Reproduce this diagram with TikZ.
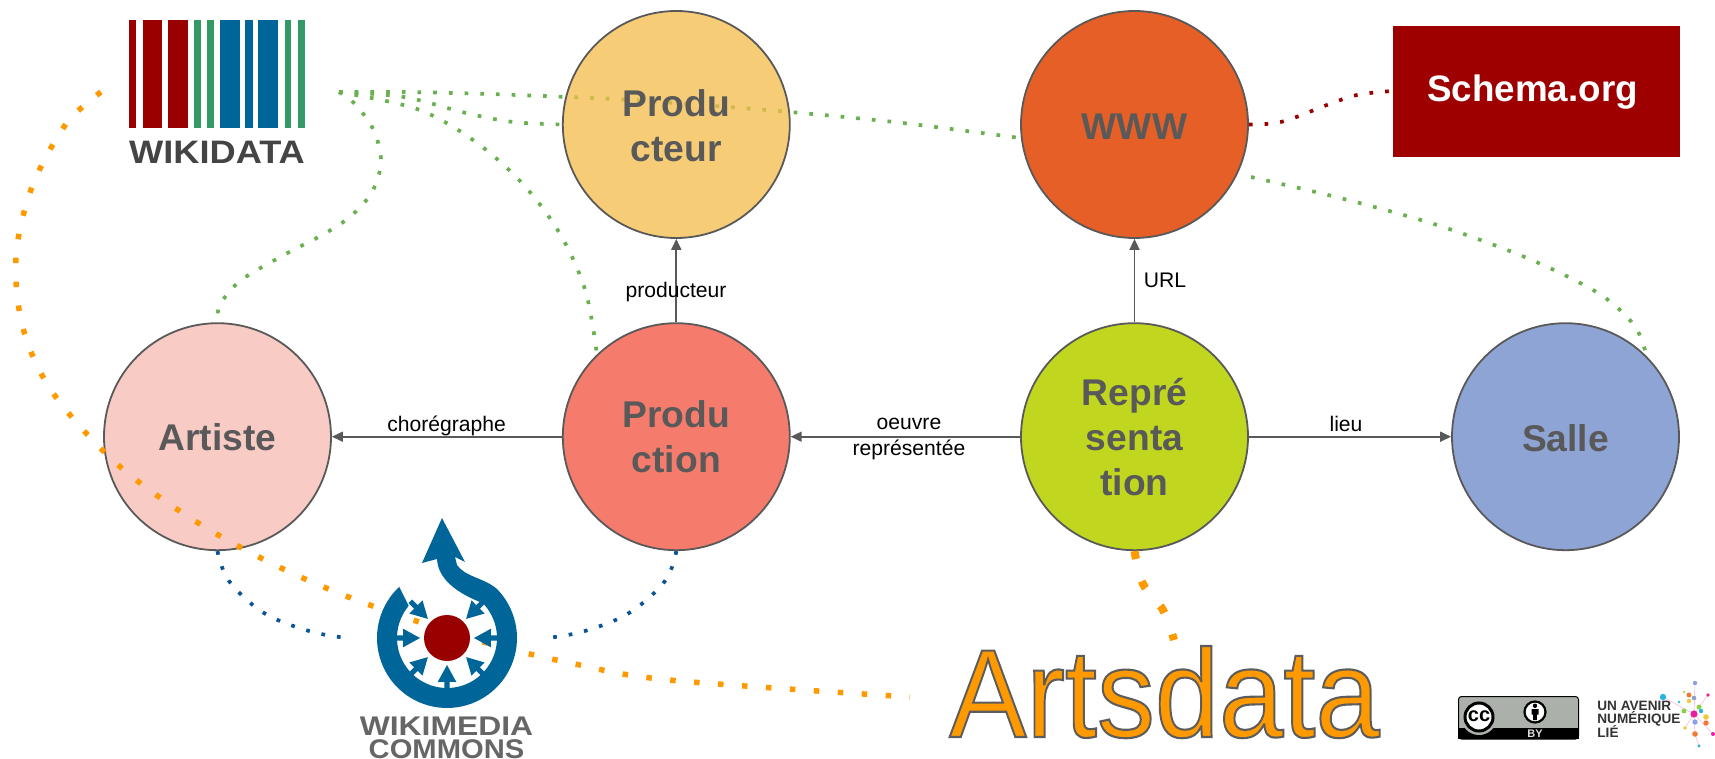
\documentclass[tikz,border=0pt]{standalone}
\usepackage{fontspec}
\usepackage{graphicx}
\setmainfont{Liberation Sans}
\usetikzlibrary{arrows.meta}
\definecolor{txtgrey}{HTML}{595959}
\definecolor{gdot}{HTML}{6AAF50}
\definecolor{bdot}{HTML}{0B5394}
\definecolor{odot}{HTML}{FF9900}
\definecolor{rdot}{HTML}{990000}
\definecolor{wmblue}{HTML}{006699}
\definecolor{wdgreen}{HTML}{339966}
\definecolor{ccgrey}{HTML}{ABB1AA}
\definecolor{cprod}{HTML}{F3BC48}
\definecolor{cwww}{HTML}{E55F26}
\definecolor{cart}{HTML}{F9CBC5}
\definecolor{cpron}{HTML}{F57B6C}
\definecolor{crep}{HTML}{C1D61F}
\definecolor{csal}{HTML}{8EA4D5}
\definecolor{cschema}{HTML}{9E0000}
\definecolor{wdtxt}{HTML}{444444}
\definecolor{wmtxt}{HTML}{666666}
\definecolor{uatxt}{HTML}{333333}
\definecolor{nperi}{HTML}{8CA0E6}
\definecolor{ncyan}{HTML}{28B4DC}
\definecolor{norange}{HTML}{F07832}
\definecolor{nmag}{HTML}{E61EA0}
\definecolor{nlime}{HTML}{BED23C}
\definecolor{nyel}{HTML}{F0C83C}
\definecolor{nslate}{HTML}{8CA0C8}
\definecolor{ngreen}{HTML}{8CD246}
\tikzset{
  concept/.style={circle,draw=txtgrey,line width=.9pt,minimum size=113.5pt,inner sep=0pt,align=center,text=txtgrey,
    font=\fontsize{18.6}{22.5}\selectfont\bfseries},
  relation/.style={-{Triangle[length=5.5pt,width=5pt]},draw=txtgrey,line width=.85pt},
  rellabel/.style={inner sep=0pt,align=center,text=black,font=\fontsize{10.55}{13}\selectfont},
  thindots/.style={line width=1.85pt,dash pattern=on 1.85pt off 6pt},
  widedots/.style={draw=odot,line width=2.75pt,dash pattern=on 2.75pt off 9.25pt},
  heavydots/.style={draw=odot,line width=4pt,dash pattern=on 4pt off 11.5pt},
  logotext/.style={inner sep=0pt,anchor=base,font=\bfseries},
  uatext/.style={inner sep=0pt,anchor=base west,font=\fontsize{6.8}{7}\selectfont\bfseries,text=uatxt}
}
\newcommand{\outlined}[1]{\special{pdf:code q 2 Tr 1.05 w 0.36 0.36 0.36 RG}#1\special{pdf:code Q}}
\newcommand{\topgap}[1]{\rule{0pt}{#1pt}}
\begin{document}
\begin{tikzpicture}[x=.5pt,y=-.5pt]
\useasboundingbox (0,0) rectangle (1715,759);
% free ends
\coordinate (wdhub) at (339,92);
\coordinate (wdleft) at (101,92);
\coordinate (adleft) at (910,697);
\coordinate (adtop) at (1174,640);
\coordinate (wmleft) at (343,637.5);
\coordinate (wmright) at (551,637.5);
\coordinate (schemaleft) at (1392,91);
% line that runs behind Producteur
\draw[gdot,thindots] plot[smooth,tension=.5] coordinates {(wdhub) (408,92) (488,94) (568,97) (632,100) (728,107) (807,113.5) (903,123) (1020,138)};
% circles
\node[concept,fill=cprod,fill opacity=.75,text opacity=1,draw opacity=1] (producteur) at (676.3,124.5) {\topgap{14.7}Produ\\cteur};
\node[concept,fill=cwww] (www) at (1134.5,124.5) {\topgap{14.8}WWW};
\node[concept,fill=cart] (artiste) at (217.5,436.7) {\topgap{14}Artiste};
\node[concept,fill=cpron] (production) at (676.3,436.7) {\topgap{13.8}Produ\\ction};
\node[concept,fill=crep] (representation) at (1134.5,436.7) {\topgap{14.3}Repré\\senta\\tion};
\node[concept,fill=csal] (salle) at (1565.5,436.7) {\topgap{15}Salle};
% relations
\draw[relation] (production) -- (artiste);
\draw[relation] (production) -- (producteur);
\draw[relation] (representation) -- (production);
\draw[relation] (representation) -- (www);
\draw[relation] (representation) -- (salle);
\node[rellabel] (lchoreo) at (446.6,425.5) {chorégraphe};
\node[rellabel] (lprod) at (676,292) {producteur};
\node[rellabel] (lurl) at (1165,280) {URL};
\node[rellabel] (llieu) at (1346,423.5) {lieu};
\node[rellabel] (loeuvre) at (909,439) {oeuvre\\représentée};
% green dotted
\draw[gdot,thindots] plot[smooth,tension=.55] coordinates {(wdhub) (356,105) (374,131) (381,162) (372,192) (351,216) (324,234) (282,256) (240,281) (220,305) (artiste.north)};
\draw[gdot,thindots] plot[smooth,tension=.55] coordinates {(wdhub) (417,109) (473,140) (521,182) (559.5,233) (585.5,291) (597,355)};
\draw[gdot,thindots] plot[smooth,tension=.55] coordinates {(wdhub) (404,97) (466,113) (513,122) (producteur.west)};
\draw[gdot,thindots] plot[smooth,tension=.55] coordinates {(1251,177) (1344,199) (1437,225) (1527,258) (1598,293) (1634,325) (1646,354)};
% red dotted
\draw[rdot,thindots] plot[smooth,tension=.6] coordinates {(www.east) (1282,121.7) (1327,105) (1357,95) (schemaleft)};
% blue dotted
\draw[bdot,thindots] plot[smooth,tension=.6] coordinates {(artiste.south) (229,581) (264,613) (309,631) (wmleft)};
\draw[bdot,thindots] plot[smooth,tension=.6] coordinates {(production.south) (665,581) (629,613) (585,631) (wmright)};
% orange dotted
\draw[widedots] plot[smooth,tension=.55] coordinates {(wdleft) (66,124) (32,187) (16,257) (23,328) (53,393) (117,464) (195,521) (279,567) (367,604) (480,641) (575,664) (669,680) (adleft)};
\draw[heavydots] plot[smooth,tension=.6] coordinates {(representation.south) (1143,584) (1163,610) (adtop)};
% Wikidata logo
\foreach \a/\b/\c in {129.3/136.2/rdot,142.7/161.9/rdot,168.4/187.9/rdot,194/200.5/wdgreen,207/213.5/wdgreen,219.7/239.6/wmblue,245.3/252.6/wmblue,258.3/278.2/wmblue,285/291.2/wdgreen,298/304.6/wdgreen}
  \fill[\c] (\a,20) rectangle (\b,128.3);
\node[logotext,text=wdtxt] (wikidata) at (217,163.3) {\fontsize{16.25}{18}\selectfont\scalebox{1.115}[1]{WIKIDATA}};
% Wikimedia logo
\fill[wmblue] plot[domain=133:404,samples=70] ({447+70*cos(\x)},{638-70*sin(\x)}) .. controls (485,578) and (465,577) .. (457,565) -- (455,557) -- (465,562) -- (442,518) -- (422,563) -- (437,559) .. controls (438,578) and (455,592) .. (480,602) -- plot[domain=49:-220,samples=70] ({447+50*cos(\x)},{638-50*sin(\x)}) -- cycle;
\foreach \a in {135,180,225,270,315,360,45}{
  \fill[wmblue] ({447+27*cos(\a)},{638-27*sin(\a)}) -- ({447+45*cos(\a+12)},{638-45*sin(\a+12)}) -- ({447+44*cos(\a+3.3)},{638-44*sin(\a+3.3)}) -- ({447+52*cos(\a+2.8)},{638-52*sin(\a+2.8)}) -- ({447+52*cos(\a-2.8)},{638-52*sin(\a-2.8)}) -- ({447+44*cos(\a-3.3)},{638-44*sin(\a-3.3)}) -- ({447+45*cos(\a-12)},{638-45*sin(\a-12)}) -- cycle;
}
\fill[rdot] (447,638) circle (23);
\node[logotext,text=wmtxt] (wmtext) at (446.5,735.5) {\fontsize{13.5}{15}\selectfont\scalebox{1.18}[1]{WIKIMEDIA}};
\node[logotext,text=wmtxt] (cmtext) at (446.5,758.5) {\fontsize{13.5}{15}\selectfont\scalebox{1.08}[1]{COMMONS}};
% Schema.org
\node[fill=cschema,minimum width=143.5pt,minimum height=65.3pt,inner sep=0pt] (schema) at (1536.5,91.3) {};
\node[logotext,text=white] (schematext) at (1532.5,102) {\fontsize{18.4}{20}\selectfont Schema.org};
% Artsdata
\node[inner sep=0pt,anchor=base west,text=odot] (artsdata) at (949,737) {\fontsize{62.8}{70}\selectfont\scalebox{.92}[1]{\outlined{Artsdata}}};
% CC badge
\fill[ccgrey,draw=black,line width=.5pt,rounded corners=1.5pt] (1458.5,696.5) rectangle (1578.5,739);
\fill[black] (1458,728) rectangle (1579,739);
\fill[ccgrey] (1479,717) circle (18);
\fill[white,draw=black,line width=1.5pt] (1479,717) circle (14);
\node[inner sep=0pt,font=\fontsize{10}{10}\selectfont\bfseries] (cctext) at (1479,716) {cc};
\fill[white,draw=black,line width=1.1pt] (1535,712) circle (10.5);
\fill[black] (1535,705.8) circle (2.2) (1531.5,709) rectangle (1538.5,714.5) (1533.2,714) rectangle (1536.8,720);
\node[inner sep=0pt,text=ccgrey!40!white,font=\fontsize{5.5}{6}\selectfont\bfseries] (bytext) at (1535,733.5) {BY};
% Un avenir numerique lie
\node[uatext] (ua1) at (1597,710.8) {UN AVENIR};
\node[uatext] (ua2) at (1597,723.7) {NUMÉRIQUE};
\node[uatext] (ua3) at (1597,737.3) {LIÉ};
\draw[nmag!35,line width=.25pt] (1694,714) -- (1695,683) (1694,714) -- (1708,695) (1694,714) -- (1663,697) (1694,714) -- (1695,734) (1694,714) -- (1713,734) (1695,734) -- (1699,746) (1694,714) -- (1685,728);
\foreach \px/\py/\c/\r in {1695/683/nperi/2.2,1663/697/ncyan/3.2,1689/695/norange/2.5,1708/695/nmag/1.8,1684/692/nlime/1.3,1679/702/ncyan/1.4,1689/701/nyel/2.2,1694/698/nslate/2.3,1699/707/ngreen/2.5,1684/711/ngreen/2.5,1701/711/ncyan/2.2,1694/714/nmag/3.6,1706/717/nyel/2.8,1695/722/nperi/2.7,1706/723/norange/2.7,1685/728/nyel/1.8,1695/734/norange/2.8,1713/734/nmag/2,1699/746/ncyan/1.6}
  \fill[\c] (\px,\py) circle (\r);
\end{tikzpicture}
\end{document}
